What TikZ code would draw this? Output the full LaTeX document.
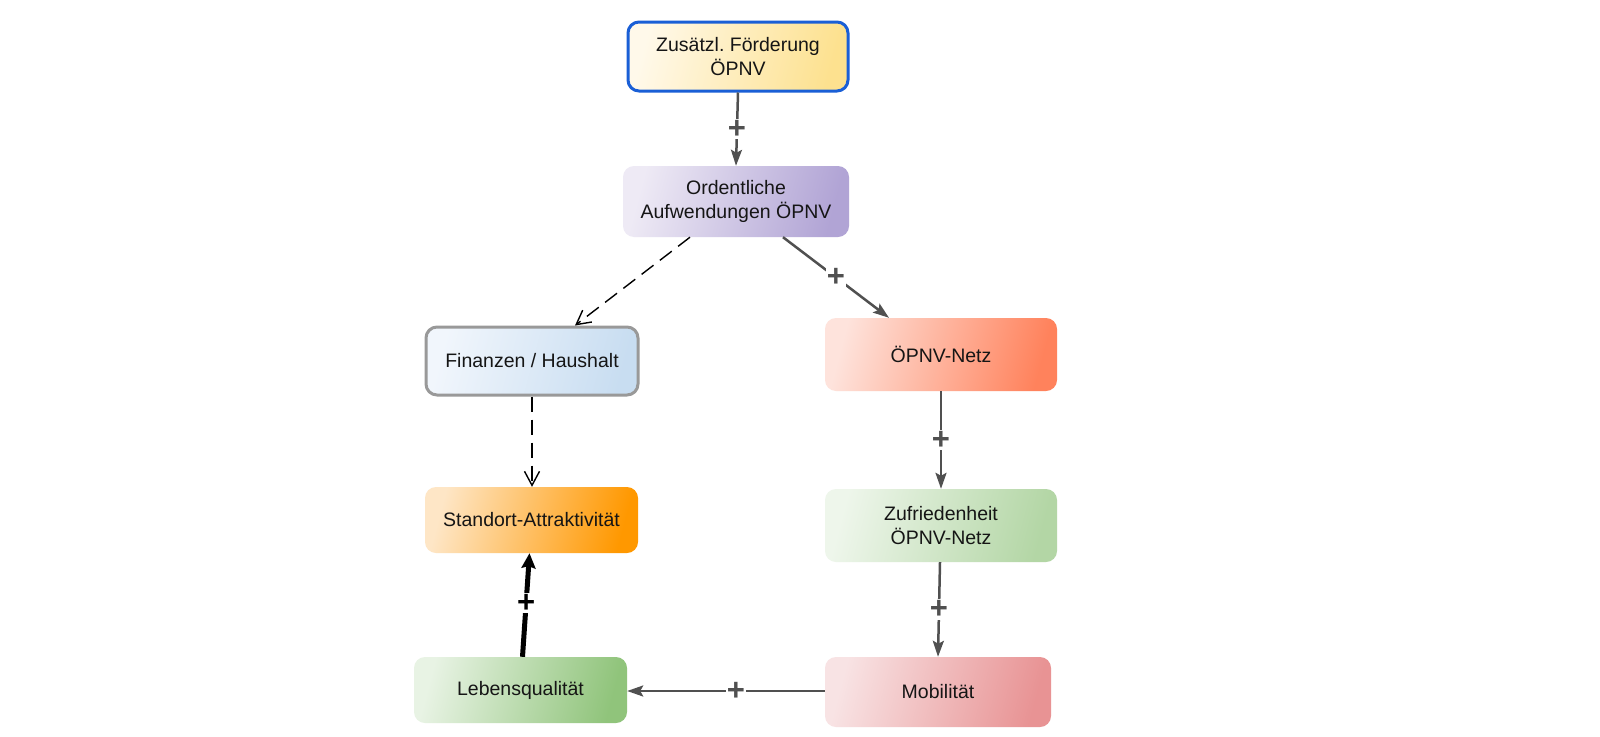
\documentclass[tikz,border=0pt]{standalone}
\usepackage{fontspec}
\setmainfont{Liberation Sans}
\frenchspacing
\usetikzlibrary{arrows.meta,calc}
\definecolor{linegray}{HTML}{505050}
\definecolor{txt}{HTML}{151515}
\definecolor{topA}{HTML}{FFF9EA}\definecolor{topB}{HTML}{FDE18F}\definecolor{topD}{HTML}{1A5FD6}
\definecolor{ordA}{HTML}{EEEAF5}\definecolor{ordB}{HTML}{B1A4D5}
\definecolor{finA}{HTML}{F1F6FC}\definecolor{finB}{HTML}{C8DDF1}\definecolor{finD}{HTML}{999999}
\definecolor{netA}{HTML}{FEE3DC}\definecolor{netB}{HTML}{FF825C}
\definecolor{staA}{HTML}{FEE6C6}\definecolor{staB}{HTML}{FF9800}
\definecolor{zufA}{HTML}{EEF6EB}\definecolor{zufB}{HTML}{B3D6A5}
\definecolor{lebA}{HTML}{E8F3E4}\definecolor{lebB}{HTML}{90C47B}
\definecolor{mobA}{HTML}{F8E3E4}\definecolor{mobB}{HTML}{E89394}
\begin{document}
\begin{tikzpicture}[x=1pt,y=-1pt,
  box/.style={rectangle, rounded corners=11pt, align=center, text=txt,
    font=\fontsize{19.5}{24}\selectfont, inner sep=0pt},
  grad/.style 2 args={left color=#1, right color=#2, shading angle=75},
  rel/.style={draw=linegray, line width=2.5pt, -{Stealth[length=16pt,width=11pt,inset=3pt]}},
  neu/.style={draw=black, line width=1.4pt, dash pattern=on 15pt off 8pt,
    -{Straight Barb[length=14pt,width=15pt,line width=1.4pt]}},
  strong/.style={draw=black, line width=5pt, -{Stealth[length=15pt,width=14pt,inset=2pt]}},
  plus/.style={fill=white, inner sep=1pt, text=linegray,
    font=\fontsize{31}{31}\selectfont\bfseries},
  plusb/.style={fill=white, inner sep=1pt, text=black,
    font=\fontsize{31}{31}\selectfont\bfseries}
]
\useasboundingbox[fill=white] (0,0) rectangle (1600,736);

\node[box, grad={topA}{topB}, draw=topD, line width=3pt,
  minimum width=220pt, minimum height=69pt] (top) at (738,56.5)
  {Zusätzl. Förderung\\ÖPNV};
\node[box, grad={ordA}{ordB}, minimum width=226pt, minimum height=71pt]
  (ord) at (736,201.5) {Ordentliche\\Aufwendungen ÖPNV};
\node[box, grad={finA}{finB}, draw=finD, line width=3pt,
  minimum width=212pt, minimum height=68pt] (fin) at (532,361) {Finanzen / Haushalt};
\node[box, grad={netA}{netB}, minimum width=232pt, minimum height=73pt]
  (net) at (941,354.5) {ÖPNV-Netz};
\node[box, grad={staA}{staB}, minimum width=213pt, minimum height=66pt]
  (sta) at (531.5,520) {Standort-Attraktivität};
\node[box, grad={zufA}{zufB}, minimum width=232pt, minimum height=73pt]
  (zuf) at (941,525.5) {Zufriedenheit\\ÖPNV-Netz};
\node[box, grad={lebA}{lebB}, minimum width=213pt, minimum height=66pt]
  (leb) at (520.5,690) {Lebensqualität};
\node[box, grad={mobA}{mobB}, minimum width=226pt, minimum height=70pt]
  (mob) at (938,692) {Mobilität};

\draw[rel] (top.south) -- node[plus] {+} (ord.north);
\draw[neu] ($(ord.south)+(-46,0)$) -- ($(fin.north)+(43,0)$);
\draw[rel] ($(ord.south)+(47,0)$) -- node[plus] {+} ($(net.north)+(-52,0)$);
\draw[neu] (fin.south) -- (fin.south |- sta.north);
\draw[rel] (net.south) -- node[plus] {+} (zuf.north);
\draw[rel] ($(zuf.south)+(-1,0)$) -- node[plus] {+} ($(mob.north)+(0,0)$);
\draw[rel] (mob.west |- 0,691) -- node[plus, pos=0.45] {+} (leb.east |- 0,691);
\draw[strong] ($(leb.north)+(2,0)$) -- node[plusb, pos=0.52] {+} ($(sta.south)+(-2,0)$);
\end{tikzpicture}
\end{document}
